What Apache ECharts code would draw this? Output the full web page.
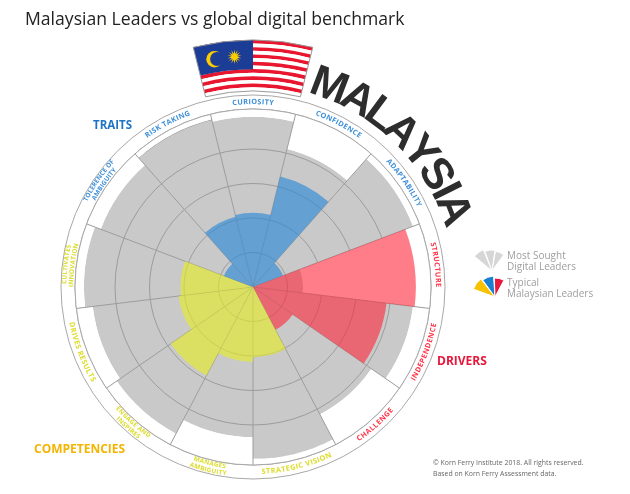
<!DOCTYPE html>
<html>
<head>
<meta charset="utf-8">
<title>Malaysian Leaders vs global digital benchmark</title>
<script src="https://cdn.jsdelivr.net/npm/echarts@6.0.0/dist/echarts.min.js"></script>
<style>
html,body{margin:0;padding:0;background:#fff;}
#chart{width:630px;height:494px;}
</style>
</head>
<body>
<div id="chart"></div>
<script>
// dimensions, clockwise from the top
var categories = ['Curiosity', 'Confidence', 'Adaptability', 'Structure', 'Independence', 'Challenge',
    'Strategic Vision', 'Manages Ambiguity', 'Engage and Inspires', 'Drives Results',
    'Cultivates Innovation', 'Tolerence of Ambiguity', 'Risk Taking'];
var ringLabels = [['CURIOSITY'], ['CONFIDENCE'], ['ADAPTABILITY'], ['STRUCTURE'], ['INDEPENDENCE'], ['CHALLENGE'],
    ['STRATEGIC VISION'], ['MANAGES', 'AMBIGUITY'], ['ENGAGE AND', 'INSPIRES'], ['DRIVES RESULTS'],
    ['CULTIVATES', 'INNOVATION'], ['TOLERENCE OF', 'AMBIGUITY'], ['RISK TAKING']];
var labelGroups = ['traits', 'traits', 'traits', 'drivers', 'drivers', 'drivers',
    'comp', 'comp', 'comp', 'comp', 'comp', 'traits', 'traits'];
// labels that read counter-clockwise (along the bottom)
var bottomLabels = [4, 5, 6, 7, 8, 9];

// values (each ring = 1)
var digitalLeaders   = [4.93, 4.12, 4.96, 1.45, 4.67, 4.17, 4.98, 4.35, 4.80, 4.68, 4.90, 4.72, 5.00];
var malaysianLeaders = [2.15, 3.30, 0.93, 4.72, 3.90, 1.40, 2.03, 2.17, 2.90, 2.17, 2.10, 0.90, 2.10];

var CX = 253, CY = 287, R = 178, UNIT = 34.5;
var RMAX = R / UNIT;
var D2R = Math.PI / 180;

var textColors = {traits: '#3d8fd9', drivers: '#ff3347', comp: '#dcdc2a'};
var barColors = {traits: 'rgba(40,135,218,0.62)', drivers: 'rgba(255,38,58,0.6)', comp: 'rgba(232,240,30,0.6)'};

var maskValues = digitalLeaders.map(function (v) { return RMAX - v; });

var measureCtx = document.createElement('canvas').getContext('2d');

// compass angle (deg, clockwise from top) -> canvas radians
function cang(a) { return (a - 90) * D2R; }
function pt(r, a) { return [CX + r * Math.sin(a * D2R), CY - r * Math.cos(a * D2R)]; }

function sector(cx, cy, r0, r, a0, a1, fill, extra) {
    var el = {
        type: 'sector',
        shape: {cx: cx, cy: cy, r0: r0, r: r, startAngle: cang(a0), endAngle: cang(a1), clockwise: true},
        style: {fill: fill},
        silent: true,
        z: 20
    };
    if (extra) for (var k in extra) el.style[k] = extra[k];
    return el;
}

// put letters one by one along a circle
function arcText(str, r, theta, bottom, font, color, spacing, out) {
    measureCtx.font = font;
    var widths = [], total = 0;
    for (var i = 0; i < str.length; i++) {
        var w = measureCtx.measureText(str[i]).width;
        widths.push(w);
        total += w + (i ? spacing : 0);
    }
    var acc = 0;
    var th = theta * D2R;
    for (var j = 0; j < str.length; j++) {
        var off = (acc + widths[j] / 2 - total / 2) / r;
        acc += widths[j] + spacing;
        if (str[j] === ' ') continue;
        var phi = bottom ? th - off : th + off;
        out.push({
            type: 'text',
            x: CX + r * Math.sin(phi),
            y: CY - r * Math.cos(phi),
            rotation: bottom ? -(phi - Math.PI) : -phi,
            silent: true,
            z: 30,
            style: {
                text: str[j], font: font, fill: color,
                align: 'center', verticalAlign: 'middle',
                textAlign: 'center', textVerticalAlign: 'middle'
            }
        });
    }
}

var graphics = [];

// label ring
graphics.push({type: 'circle', shape: {cx: CX, cy: CY, r: R}, style: {fill: 'none', stroke: '#a8a8a8', lineWidth: 1}, silent: true, z: 10});
graphics.push({type: 'circle', shape: {cx: CX, cy: CY, r: 192}, style: {fill: 'none', stroke: '#a8a8a8', lineWidth: 1}, silent: true, z: 10});

var step = 360 / categories.length;
ringLabels.forEach(function (lines, i) {
    var bottom = bottomLabels.indexOf(i) >= 0;
    var color = textColors[labelGroups[i]];
    if (lines.length === 1) {
        arcText(lines[0], 185, i * step, bottom, 'bold 7.3px "Open Sans"', color, 0.4, graphics);
    } else {
        var rs = bottom ? [181.5, 188.5] : [188.5, 181.5];
        arcText(lines[0], rs[0], i * step, bottom, 'bold 6.4px "Open Sans"', color, 0.2, graphics);
        arcText(lines[1], rs[1], i * step, bottom, 'bold 6.4px "Open Sans"', color, 0.2, graphics);
    }
});

// flag
(function () {
    var rOut = 247, rIn = 196, h = (rOut - rIn) / 14;
    for (var i = 0; i < 14; i++) {
        graphics.push(sector(CX, CY, rOut - (i + 1) * h, rOut - i * h, -14, 14, i % 2 ? '#ffffff' : '#e8162e'));
    }
    graphics.push(sector(CX, CY, rOut - 8 * h, rOut, -14, 0, '#1c3d96'));
    var c = pt(231, -9.6);
    graphics.push({type: 'circle', shape: {cx: c[0], cy: c[1], r: 8.2}, style: {fill: '#ffcc00'}, silent: true, z: 21});
    graphics.push({type: 'circle', shape: {cx: c[0] + 2.6, cy: c[1] - 0.3, r: 7}, style: {fill: '#1c3d96'}, silent: true, z: 22});
    var s = pt(231, -4.6), pts = [];
    for (var k = 0; k < 28; k++) {
        var rr = k % 2 ? 3 : 7.2, a = k * Math.PI / 14 - Math.PI / 2;
        pts.push([s[0] + rr * Math.cos(a), s[1] + rr * Math.sin(a)]);
    }
    graphics.push({type: 'polygon', shape: {points: pts}, style: {fill: '#ffcc00'}, silent: true, z: 22});
    graphics.push(sector(CX, CY, rIn, rOut, -14, 14, 'none', {stroke: '#9a9a9a', lineWidth: 1}));
})();

// big curved country name
(function () {
    var font = 'bold 44px "Liberation Sans"';
    var str = 'MALAYSIA', r = 214;
    measureCtx.font = font;
    var widths = [], total = 0;
    for (var i = 0; i < str.length; i++) { widths.push(measureCtx.measureText(str[i]).width); total += widths[i]; }
    var span = 56.5 * D2R, start = 16.3 * D2R, acc = 0;
    for (var j = 0; j < str.length; j++) {
        var phi = start + (acc + widths[j] / 2) / total * span;
        acc += widths[j];
        graphics.push({
            type: 'text', x: CX + r * Math.sin(phi), y: CY - r * Math.cos(phi), rotation: -phi,
            silent: true, z: 30,
            style: {text: str[j], font: font, fill: '#2d2d2d', align: 'center', verticalAlign: 'middle',
                textAlign: 'center', textVerticalAlign: 'middle'}
        });
    }
})();

// group headings
function label(text, x, y, font, color, extra) {
    var el = {type: 'text', x: x, y: y, silent: true, z: 30,
        style: {text: text, font: font, fill: color, align: 'left', verticalAlign: 'middle',
            textAlign: 'left', textVerticalAlign: 'middle'}};
    if (extra) for (var k in extra) el.style[k] = extra[k];
    graphics.push(el);
}
label('TRAITS', 93, 125.5, 'bold 11.5px "Open Sans"', '#1d74c6');
label('DRIVERS', 437, 362, 'bold 12px "Open Sans"', '#e8173a');
label('COMPETENCIES', 34, 449.5, 'bold 12px "Open Sans"', '#f5b400');

// legend
var gx = 492, gy = 271;
graphics.push(sector(gx, gy, 0, 23, -50, -22, '#d6d6d6', {stroke: '#fff', lineWidth: 1}));
graphics.push(sector(gx, gy, 0, 21, -20, 8, '#d6d6d6', {stroke: '#fff', lineWidth: 1}));
graphics.push(sector(gx, gy, 0, 20, 10, 36, '#d6d6d6', {stroke: '#fff', lineWidth: 1}));
var lx = 495, ly = 297;
graphics.push(sector(lx, ly, 0, 23, -70, -38, '#f7c200', {stroke: '#fff', lineWidth: 1}));
graphics.push(sector(lx, ly, 0, 21, -36, -4, '#1a7fd0', {stroke: '#fff', lineWidth: 1}));
graphics.push(sector(lx, ly, 0, 19, -2, 28, '#e8193c', {stroke: '#fff', lineWidth: 1}));
label('Most Sought\nDigital Leaders', 507, 261.5, '10px "Open Sans"', '#9e9e9e', {lineHeight: 10.5});
label('Typical\nMalaysian Leaders', 507, 288.5, '10px "Open Sans"', '#9e9e9e', {lineHeight: 10.5});

label('\u00a9 Korn Ferry Institute 2018. All rights reserved.\nBased on Korn Ferry Assessment data.', 433, 468.5,
    '6.9px "Open Sans"', '#666666', {lineHeight: 10.5});

var myChart = echarts.init(document.getElementById('chart'));
var option = {
    backgroundColor: '#fff',
    animation: false,
    title: {
        text: 'Malaysian Leaders vs global digital benchmark',
        left: 20, top: 6,
        textStyle: {fontFamily: 'Open Sans', fontSize: 17.6, fontWeight: 'normal', color: '#222'}
    },
    polar: {center: [CX, CY], radius: R},
    // layers: gray bars (1) < rings (2) < white mask (3) < spokes (4) < coloured bars (5)
    angleAxis: {
        type: 'category',
        data: categories,
        startAngle: 90 + step / 2,
        clockwise: true,
        z: 4,
        axisLine: {show: false},
        axisTick: {show: false},
        axisLabel: {show: false},
        splitLine: {show: true, lineStyle: {color: '#9c9c9c', width: 1}}
    },
    radiusAxis: {
        type: 'value',
        min: 0,
        max: RMAX,
        interval: 1,
        z: 2,
        axisLine: {show: false},
        axisTick: {show: false},
        axisLabel: {show: false},
        splitLine: {show: true, lineStyle: {color: '#9c9c9c', width: 1}}
    },
    series: [
        {
            name: 'Most Sought Digital Leaders',
            type: 'bar', coordinateSystem: 'polar', stack: 'bench',
            data: digitalLeaders,
            barCategoryGap: '0%', barGap: '-100%',
            itemStyle: {color: '#c9c9c9'},
            silent: true, z: 1
        },
        {
            name: 'mask',
            type: 'bar', coordinateSystem: 'polar', stack: 'bench',
            data: maskValues,
            barCategoryGap: '0%', barGap: '-100%',
            itemStyle: {color: '#ffffff'},
            silent: true, z: 3
        },
        {
            name: 'Typical Malaysian Leaders',
            type: 'bar', coordinateSystem: 'polar',
            data: malaysianLeaders,
            barCategoryGap: '0%', barGap: '-100%',
            itemStyle: {color: function (p) { return barColors[labelGroups[p.dataIndex]]; }},
            silent: true, z: 5
        }
    ],
    graphic: graphics
};
myChart.setOption(option);
</script>
</body>
</html>
